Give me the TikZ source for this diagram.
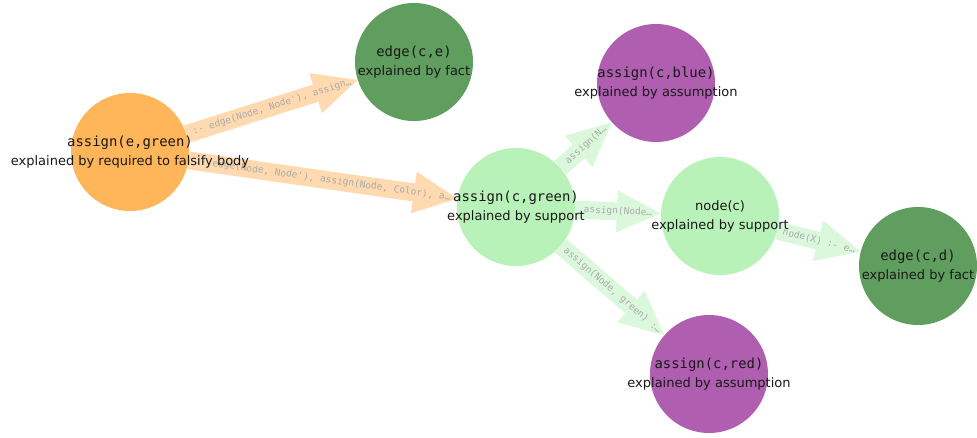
\documentclass[tikz,border=0pt]{standalone}
\usepackage{fontspec}
\setmainfont{DejaVu Sans}
\newfontfamily\monofam{DejaVu Sans Mono}
\usetikzlibrary{arrows.meta}
\definecolor{corange}{RGB}{255,181,90}
\definecolor{cdgreen}{RGB}{95,158,95}
\definecolor{cpurple}{RGB}{176,95,176}
\definecolor{clgreen}{RGB}{185,242,185}
\definecolor{oarr}{RGB}{255,218,176}
\definecolor{garr}{RGB}{220,248,220}
\definecolor{txtc}{RGB}{25,25,25}
\definecolor{labc}{RGB}{170,170,170}
\pgfdeclarelayer{background}
\pgfsetlayers{background,main}
\tikzset{
  ball/.style={circle, minimum size=118pt, inner sep=0pt, draw=none},
  txt/.style={align=center, text=txtc, font=\fontsize{13}{19}\selectfont, inner sep=0pt},
  fat/.style={line width=18pt, -{Triangle[length=44pt,width=42pt,line width=0pt]}},
  elab/.style={sloped, midway, font=\monofam\fontsize{9.5}{10}\selectfont, text=labc, inner sep=0pt}
}
\newcommand{\mlin}[1]{{\monofam\fontsize{13.9}{19}\selectfont #1}}
\begin{document}
\begin{tikzpicture}[x=1pt,y=-1pt]
\useasboundingbox (0,0) rectangle (977,437);
% circles
\node[ball, fill=corange] (A) at (130,152) {};
\node[ball, fill=cdgreen] (E) at (414,62) {};
\node[ball, fill=cpurple] (B) at (656,83) {};
\node[ball, fill=clgreen] (G) at (516,207) {};
\node[ball, fill=clgreen] (N) at (720,216) {};
\node[ball, fill=cdgreen] (D) at (918,266) {};
\node[ball, fill=cpurple] (R) at (709,374) {};
% texts
\node[txt] (At) at (A) {\mlin{assign(e,green)}\\explained by required to falsify body};
\node[txt] (Et) at (E) {\mlin{edge(c,e)}\\explained by fact};
\node[txt] (Bt) at (B) {\mlin{assign(c,blue)}\\explained by assumption};
\node[txt] (Gt) at (G) {\mlin{assign(c,green)}\\explained by support};
\node[txt] (Nt) at (N) {node(c)\\explained by support};
\node[txt] (Dt) at (D) {\mlin{edge(c,d)}\\explained by fact};
\node[txt] (Rt) at (R) {\mlin{assign(c,red)}\\explained by assumption};
% arrows
\begin{pgfonlayer}{background}
\draw[fat, draw=oarr] (A) -- (E) node[elab] {:- edge(Node, Node'), assign…};
\draw[fat, draw=oarr] (A) -- (G) node[elab] {:- edge(Node, Node'), assign(Node, Color), a…};
\draw[fat, draw=garr] (G) -- (B) node[elab] {assign(N…};
\draw[fat, draw=garr] (G) -- (N) node[elab] {assign(Node…};
\draw[fat, draw=garr] (G) -- (R) node[elab] {assign(Node, green) :…};
\draw[fat, draw=garr] (N) -- (D) node[elab] {node(X) :- e…};
\end{pgfonlayer}
\end{tikzpicture}
\end{document}
